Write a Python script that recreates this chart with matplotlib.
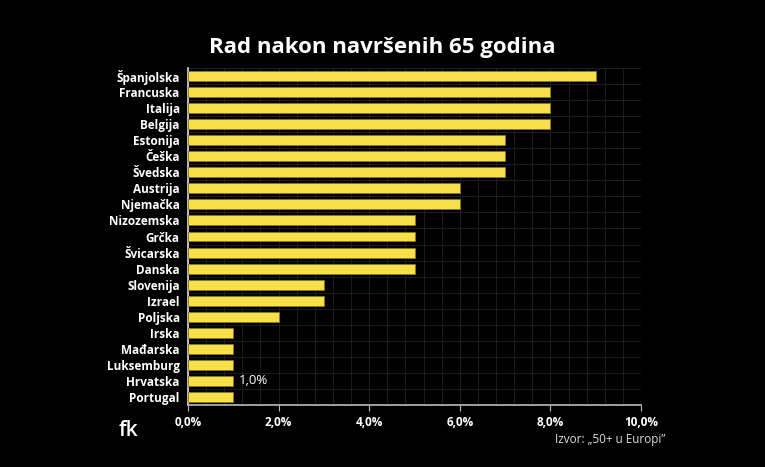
import matplotlib.pyplot as plt
from matplotlib.ticker import MultipleLocator, FuncFormatter

plt.rcParams['font.family'] = ['Open Sans', 'DejaVu Sans']

# Data
countries = ["Španjolska", "Francuska", "Italija", "Belgija", "Estonija", "Češka",
             "Švedska", "Austrija", "Njemačka", "Nizozemska", "Grčka", "Švicarska",
             "Danska", "Slovenija", "Izrael", "Poljska", "Irska", "Mađarska",
             "Luksemburg", "Hrvatska", "Portugal"]
values = [9, 8, 8, 8, 7, 7, 7, 6, 6, 5, 5, 5, 5, 3, 3, 2, 1, 1, 1, 1, 1]

bar_color = "#F7DF4A"

fig = plt.figure(figsize=(7.65, 4.67), dpi=100, facecolor="black")
ax = fig.add_axes([188 / 765, 1 - 405 / 467, (641 - 188) / 765, (405 - 68) / 467])
ax.set_facecolor("black")

y = list(range(len(countries)))
ax.barh(y, values, height=0.62, color=bar_color, edgecolor="#8a7a20", linewidth=0.6, zorder=3)

ax.set_ylim(len(countries) - 0.5, -0.5)
ax.set_xlim(0, 10)
ax.set_yticks(y)
ax.set_yticklabels(countries, color="white", fontsize=8.5, fontweight="bold")
ax.set_yticks([i + 0.5 for i in range(-1, len(countries))], minor=True)

ax.xaxis.set_major_locator(MultipleLocator(2))
ax.xaxis.set_minor_locator(MultipleLocator(0.4))
ax.xaxis.set_major_formatter(FuncFormatter(lambda v, p: f"{v:.1f}%".replace(".", ",")))
for lbl in ax.get_xticklabels():
    lbl.set_color("white")
    lbl.set_fontweight("bold")
    lbl.set_fontsize(8.5)

ax.grid(axis="x", which="both", color="#1c1c1c", linewidth=0.8, zorder=0)
ax.grid(axis="y", which="minor", color="#1c1c1c", linewidth=0.8, zorder=0)
ax.tick_params(axis="y", which="both", length=0, pad=6)
ax.tick_params(axis="x", which="major", length=4, color="#bbbbbb", pad=4, labelcolor="white")
ax.tick_params(axis="x", which="minor", length=0)

for side in ("top", "right"):
    ax.spines[side].set_visible(False)
ax.spines["bottom"].set_color("#bbbbbb")
ax.spines["bottom"].set_linewidth(1.2)
ax.spines["left"].set_color("#dddddd")
ax.spines["left"].set_linewidth(1.2)

# value label for Hrvatska
hr = countries.index("Hrvatska")
ax.text(values[hr] + 0.12, hr, "1,0%", color="white", fontsize=9.5, va="center", ha="left")

fig.text(0.5, 1 - 47 / 467, "Rad nakon navršenih 65 godina", color="white",
         fontsize=16, fontweight="bold", ha="center", va="center")
fig.text(665 / 765, 1 - 440 / 467, "Izvor: „50+ u Europi”", color="#dddddd",
         fontsize=8.5, ha="right", va="center")
fig.text(119 / 765, 1 - 430 / 467, "fk", color="white", fontsize=15, fontweight="semibold",
         ha="left", va="center")

fig.savefig("out.png", dpi=100, facecolor="black")
